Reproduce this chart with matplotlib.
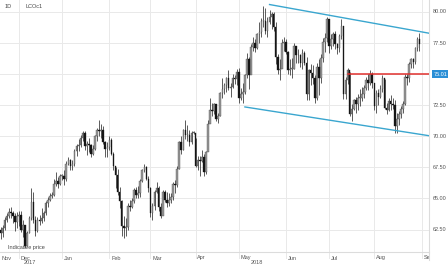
import numpy as np
import pandas as pd
import matplotlib
matplotlib.use("Agg")
import matplotlib.pyplot as plt
from matplotlib.transforms import blended_transform_factory, Bbox, TransformedBbox

# ---------------- data (LCOc1 daily, Nov 2017 - Aug 2018) ----------------
start_date = "2017-11-20"
end_date = "2018-08-31"
first_open = 62.5

closes = [
    # Nov
    62.2, 62.6, 63.3, 63.6, 63.9, 63.8, 63.6, 63.1, 63.6,
    # Dec
    63.7, 62.5, 62.9, 61.2, 62.2, 63.4, 64.7, 63.3, 62.4, 63.3, 63.2, 63.4, 63.8,
    64.6, 64.9, 65.2, 65.3, 66.2, 66.4, 66.2, 66.8,
    # Jan
    66.8, 66.6, 67.8, 68.1, 67.6, 67.8, 68.8, 69.2, 69.3, 69.9, 70.3, 69.2, 69.4,
    69.3, 68.6, 69.0, 70.0, 70.5, 70.4, 70.5, 69.5, 69.0, 69.1,
    # Feb
    69.7, 68.6, 67.6, 66.9, 65.5, 64.8, 62.8, 62.6, 62.7, 64.4, 64.3, 64.8, 65.7,
    65.3, 65.4, 66.4, 67.3, 67.5, 66.6, 65.8,
    # Mar
    63.8, 64.4, 65.5, 65.8, 64.3, 63.6, 65.5, 64.9, 64.6, 64.9, 65.1, 66.2, 66.1,
    67.4, 69.5, 68.9, 70.5, 70.1, 70.1, 69.5, 70.3, 70.3,
    # Apr
    67.6, 68.1, 68.0, 68.3, 67.1, 68.7, 71.0, 72.1, 72.0, 72.6, 71.4, 71.6, 73.5,
    73.8, 74.1, 74.7, 73.9, 74.0, 74.7, 74.6, 75.2,
    # May
    73.1, 73.4, 73.6, 74.9, 76.2, 74.9, 77.2, 77.5, 77.1, 78.2, 78.4, 79.3, 79.3,
    78.5, 79.2, 79.6, 79.8, 78.8, 76.4, 75.3, 75.4, 77.5, 77.6,
    # Jun
    76.8, 75.3, 75.4, 75.4, 77.3, 76.5, 76.5, 75.9, 76.7, 75.9, 73.4, 75.3, 75.1,
    74.7, 73.1, 75.6, 74.7, 76.3, 77.6, 77.9, 79.4,
    # Jul
    77.3, 77.8, 78.2, 77.4, 77.1, 78.1, 78.9, 73.4, 74.5, 75.3, 71.8, 72.2, 72.9,
    72.6, 73.1, 73.1, 73.4, 73.9, 74.5, 74.3, 75.0, 74.25,
    # Aug
    72.4, 73.5, 73.2, 73.8, 74.7, 72.3, 72.1, 72.8, 72.6, 72.5, 70.8, 71.4, 71.8,
    72.2, 72.6, 74.8, 74.7, 75.8, 76.2, 75.95, 77.1, 77.8, 77.4,
]
highs = [
    62.7, 62.9, 63.5, 63.8, 64.2, 64.3, 64.0, 63.8, 63.9,
    64.0, 64.0, 63.3, 62.9, 62.4, 63.6, 65.8, 65.5, 63.6, 63.5, 63.7, 64.2, 64.0,
    64.8, 65.1, 65.4, 65.5, 66.6, 67.1, 66.7, 67.0,
    67.0, 67.3, 68.0, 68.3, 68.2, 68.1, 69.0, 69.4, 69.8, 70.1, 70.4, 70.4, 69.6,
    69.9, 69.4, 69.3, 70.1, 70.7, 71.3, 71.0, 70.8, 69.6, 69.5,
    70.0, 69.9, 68.7, 67.5, 67.4, 65.9, 64.9, 63.6, 63.4, 64.6, 64.9, 65.0, 65.8,
    65.9, 66.0, 66.6, 67.4, 67.8, 67.6, 66.8,
    65.9, 64.6, 65.7, 66.3, 66.0, 64.6, 65.7, 65.7, 65.5, 65.4, 65.4, 66.3, 66.5,
    67.6, 69.6, 70.0, 70.6, 71.3, 70.9, 70.5, 70.4, 70.4,
    69.9, 68.4, 68.4, 68.9, 68.6, 68.8, 71.3, 73.1, 72.7, 72.7, 72.4, 71.9, 73.6,
    74.7, 74.3, 74.8, 75.3, 74.3, 75.0, 74.9, 75.4,
    75.5, 73.9, 74.3, 75.0, 76.7, 76.4, 77.4, 78.0, 77.8, 78.3, 79.2, 79.5, 80.5,
    80.3, 79.6, 80.2, 80.0, 80.0, 79.2, 76.6, 76.2, 77.8, 78.0,
    77.8, 76.9, 76.2, 76.3, 77.5, 77.3, 77.0, 76.6, 77.0, 76.9, 76.4, 75.4, 75.8,
    75.7, 74.9, 75.9, 76.2, 76.6, 77.9, 78.3, 79.6,
    79.4, 78.2, 78.4, 78.5, 77.5, 78.2, 79.4, 78.6, 74.8, 75.5, 75.2, 72.6, 73.0,
    73.2, 73.4, 73.8, 74.0, 74.1, 74.8, 75.0, 75.3, 75.2,
    74.3, 73.7, 73.8, 74.1, 74.9, 74.6, 72.7, 73.1, 73.3, 73.1, 72.9, 71.9, 72.0,
    72.4, 72.8, 75.0, 75.0, 76.0, 76.3, 76.3, 77.2, 78.0, 78.3,
]
lows = [
    61.7, 61.9, 62.5, 63.1, 63.4, 63.4, 63.0, 62.4, 62.6,
    62.8, 62.3, 61.9, 61.0, 61.2, 62.2, 63.3, 63.0, 62.0, 62.3, 62.9, 63.0, 63.2,
    63.7, 64.3, 64.8, 65.0, 65.2, 66.0, 65.8, 66.1,
    66.5, 66.1, 66.4, 67.7, 67.3, 67.3, 67.6, 68.4, 68.8, 69.1, 69.6, 68.9, 68.5,
    68.7, 68.3, 68.5, 68.9, 69.6, 70.0, 69.9, 69.4, 68.3, 68.3,
    68.9, 68.5, 67.3, 65.8, 65.3, 64.2, 62.0, 61.8, 62.0, 62.5, 64.0, 64.2, 64.6,
    65.0, 65.0, 65.1, 66.3, 67.1, 66.5, 65.5,
    63.5, 63.3, 64.1, 65.4, 64.0, 63.4, 63.8, 64.7, 64.3, 64.4, 64.6, 64.9, 65.4,
    65.9, 67.4, 68.6, 68.9, 69.8, 69.6, 69.2, 69.4, 70.2,
    67.5, 67.3, 66.8, 67.9, 66.8, 67.0, 68.8, 71.4, 71.6, 71.8, 71.2, 71.1, 71.6,
    73.1, 73.4, 73.6, 73.7, 73.2, 73.9, 74.2, 74.1,
    72.7, 72.9, 72.7, 73.4, 74.7, 73.8, 75.0, 76.9, 76.8, 77.0, 77.5, 78.0, 78.8,
    78.2, 78.0, 79.0, 78.6, 78.5, 75.8, 75.0, 74.5, 75.6, 76.9,
    76.6, 75.0, 74.9, 74.7, 75.4, 75.9, 75.9, 75.6, 75.4, 75.7, 72.9, 72.9, 74.1,
    74.2, 72.7, 72.9, 73.3, 74.3, 76.0, 76.8, 77.6,
    76.7, 77.0, 77.3, 77.0, 76.6, 76.8, 77.8, 73.0, 73.0, 74.2, 71.6, 71.2, 72.1,
    71.9, 72.1, 72.4, 72.8, 73.1, 73.7, 73.7, 74.1, 73.9,
    72.1, 71.9, 72.5, 73.1, 73.6, 72.2, 71.8, 72.0, 72.1, 72.2, 70.3, 70.3, 70.9,
    71.5, 71.9, 72.5, 74.1, 74.4, 75.5, 75.5, 75.8, 76.9, 76.9,
]

# trend channel anchors (date, price) and horizontal level
upper_channel = [("2018-05-22", 80.6), ("2018-08-24", 78.58)]
lower_channel = [("2018-05-04", 72.36), ("2018-08-16", 70.45)]
level_start = "2018-07-13"
level_price = 75.01

ytick_values = [62.5, 65.0, 67.5, 70.0, 72.5, 77.5, 80.0]
grid_values = [62.5, 65.0, 67.5, 70.0, 72.5, 75.0, 77.5, 80.0]
year_labels = [("2017", "2017-12", 5), ("2018", "2018-05", 12)]

# ---------------- figure ----------------
W, H = 448, 266
fig = plt.figure(figsize=(W / 100, H / 100), dpi=100)
plt.rcParams['font.family'] = ['Liberation Sans', 'DejaVu Sans']

ax_left, ax_right, ax_top, ax_bot = 0, 428.5, 0, 252
ax = fig.add_axes([ax_left / W, (H - ax_bot) / H, (ax_right - ax_left) / W, (ax_bot - ax_top) / H])
for s in ax.spines.values():
    s.set_visible(False)
ax.set_xticks([]); ax.set_yticks([])

dates = pd.bdate_range(start_date, end_date)
n = len(dates)
idx = np.arange(n)
c = np.array(closes); h = np.array(highs); l = np.array(lows)
o = np.concatenate([[first_open], c[:-1]])

ax.set_xlim(-0.26, 208.4)
ax.set_ylim(60.69, 80.965)

grid_col = '#e9e9e9'
for gv in grid_values:
    ax.axhline(gv, color=grid_col, lw=0.7, zorder=0)

# month gridlines / labels
months = pd.Series(idx, index=dates).groupby([dates.year, dates.month]).first()
month_starts = [(yy, mm, i) for (yy, mm), i in months.items()]
next_month = dates[-1] + pd.offsets.BMonthBegin(1)
extra = len(pd.bdate_range(dates[-1] + pd.Timedelta(days=1), next_month)) - 1
month_starts.append((next_month.year, next_month.month, n + extra))

lab_tr = blended_transform_factory(ax.transData, fig.transFigure)
clipbox = TransformedBbox(Bbox([[0, 0], [429.3 / W, 1]]), fig.transFigure)
px = (ax_right - ax_left) / (208.4 + 0.26)
for yy, mm, i in month_starts:
    name = pd.Timestamp(year=yy, month=mm, day=1).strftime('%b')
    if i == 0 and dates[0].day > 1:
        fig.text(1.5 / W, 1 - 258 / H, name, fontsize=4, color='#555', va='center', ha='left')
        continue
    ax.axvline(i, color=grid_col, lw=0.7, zorder=0, ymin=-0.025, ymax=1, clip_on=False)
    t = ax.text(i + 1.8 / px, 1 - 258 / H, name, transform=lab_tr, fontsize=4, color='#555',
                va='center', ha='left', clip_on=True)
    t.set_clip_box(clipbox)

for txt, ym, off in year_labels:
    d = pd.Timestamp(ym + "-01")
    i = int(np.searchsorted(dates, d))
    ax.text(i + off / px, 1 - 263 / H, txt, transform=lab_tr, fontsize=4, color='#555',
            va='center', ha='left')

# bottom and right border lines
ax.plot([0, 1], [0, 0], transform=ax.transAxes, color='#dcdcdc', lw=0.8, clip_on=False)
ax.plot([1, 1], [-0.03, 1], transform=ax.transAxes, color='#dcdcdc', lw=0.8, clip_on=False)

# candles
up = c >= o
ax.vlines(idx, l, h, color='#303030', lw=0.55, zorder=3)
body_lo = np.minimum(o, c); body_h = np.maximum(np.abs(c - o), 0.06)
ax.bar(idx[up], body_h[up], bottom=body_lo[up], width=0.75, color='#9a9a9a',
       edgecolor='#404040', lw=0.25, zorder=4)
ax.bar(idx[~up], body_h[~up], bottom=body_lo[~up], width=0.75, color='#151515',
       edgecolor='#151515', lw=0.25, zorder=4)

# channel lines
def line_from(anchors):
    (d1, p1), (d2, p2) = anchors
    i1 = int(np.searchsorted(dates, pd.Timestamp(d1)))
    i2 = int(np.searchsorted(dates, pd.Timestamp(d2)))
    slope = (p2 - p1) / (i2 - i1)
    xe = 212
    return [i1, xe], [p1, p1 + slope * (xe - i1)]

chan_col = '#3aa6cf'
for anc in (upper_channel, lower_channel):
    xs, ys = line_from(anc)
    ax.plot(xs, ys, color=chan_col, lw=1.0, zorder=5)

i_lv = int(np.searchsorted(dates, pd.Timestamp(level_start)))
ax.plot([i_lv, 212], [level_price, level_price], color='#e0302e', lw=1.1, zorder=5)

# y labels on right
ytr = blended_transform_factory(fig.transFigure, ax.transData)
for v in ytick_values:
    ax.text(433 / W, v, f"{v:.2f}", transform=ytr, fontsize=4, color='#555', va='center', ha='left')
ax.text(433.5 / W, level_price, f"{level_price:.2f}", transform=ytr, fontsize=4, color='white',
        va='center', ha='left',
        bbox=dict(boxstyle='square,pad=0.25', fc='#2b8fd6', ec='none'))

# header / notes
fig.text(5 / W, 1 - 7 / H, "1D", fontsize=4, color='#444', va='center', ha='left')
fig.text(25 / W, 1 - 7 / H, "LCOc1", fontsize=4, color='#444', va='center', ha='left')
fig.text(8 / W, 1 - 248 / H, "Indicative price", fontsize=4, color='#444', va='center', ha='left')

fig.savefig("out.png", dpi=100)
